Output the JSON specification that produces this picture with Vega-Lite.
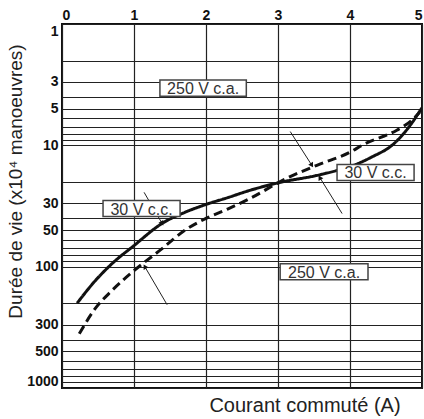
{
  "$schema": "https://vega.github.io/schema/vega-lite/v6.json",
  "width": 360,
  "height": 364,
  "autosize": {"type": "none"},
  "padding": {"left": 62, "top": 24, "right": 2, "bottom": 31},
  "background": "white",
  "config": {
    "view": {"stroke": "#111", "strokeWidth": 2},
    "font": "Liberation Sans"
  },
  "title": {
    "text": "Courant commuté (A)",
    "orient": "bottom",
    "anchor": "middle",
    "dx": 63,
    "offset": 8,
    "fontSize": 20,
    "fontWeight": "normal",
    "font": "Liberation Sans",
    "color": "#222"
  },
  "datasets": {
    "curves": [
      {"I": 0.21, "life": 200, "series": "30 V c.c."},
      {"I": 0.46, "life": 131, "series": "30 V c.c."},
      {"I": 0.69, "life": 95, "series": "30 V c.c."},
      {"I": 1.0, "life": 67, "series": "30 V c.c."},
      {"I": 1.39, "life": 44, "series": "30 V c.c."},
      {"I": 1.71, "life": 35.6, "series": "30 V c.c."},
      {"I": 2.0, "life": 30.7, "series": "30 V c.c."},
      {"I": 2.3, "life": 27, "series": "30 V c.c."},
      {"I": 2.61, "life": 23.5, "series": "30 V c.c."},
      {"I": 3.03, "life": 20.2, "series": "30 V c.c."},
      {"I": 3.54, "life": 17.7, "series": "30 V c.c."},
      {"I": 3.82, "life": 16.1, "series": "30 V c.c."},
      {"I": 4.0, "life": 15, "series": "30 V c.c."},
      {"I": 4.3, "life": 12.5, "series": "30 V c.c."},
      {"I": 4.6, "life": 9.8, "series": "30 V c.c."},
      {"I": 4.8, "life": 7.3, "series": "30 V c.c."},
      {"I": 5.0, "life": 4.9, "series": "30 V c.c."},
      {"I": 0.24, "life": 357, "series": "250 V c.a."},
      {"I": 0.46, "life": 222, "series": "250 V c.a."},
      {"I": 0.69, "life": 158, "series": "250 V c.a."},
      {"I": 1.0, "life": 108, "series": "250 V c.a."},
      {"I": 1.39, "life": 71, "series": "250 V c.a."},
      {"I": 1.71, "life": 50, "series": "250 V c.a."},
      {"I": 2.0, "life": 40, "series": "250 V c.a."},
      {"I": 2.3, "life": 33.5, "series": "250 V c.a."},
      {"I": 2.61, "life": 27.4, "series": "250 V c.a."},
      {"I": 3.12, "life": 18.7, "series": "250 V c.a."},
      {"I": 3.54, "life": 14.6, "series": "250 V c.a."},
      {"I": 4.0, "life": 11.4, "series": "250 V c.a."},
      {"I": 4.18, "life": 9.9, "series": "250 V c.a."},
      {"I": 4.65, "life": 7.5, "series": "250 V c.a."},
      {"I": 4.86, "life": 6.2, "series": "250 V c.a."},
      {"I": 4.97, "life": 5.3, "series": "250 V c.a."}
    ],
    "leaders": [
      {"x": 3.17, "y": 7.7, "x2": 3.47, "y2": 14.6},
      {"x": 3.58, "y": 18.4, "x2": 3.89, "y2": 36.5},
      {"x": 1.14, "y": 24.4, "x2": 1.39, "y2": 44},
      {"x": 1.15, "y": 100, "x2": 1.46, "y2": 206}
    ],
    "heads": [
      {"x": 3.47, "y": 14.6, "points": "down"},
      {"x": 1.39, "y": 44, "points": "down"},
      {"x": 3.58, "y": 18.4, "points": "up"},
      {"x": 1.15, "y": 100, "points": "up"}
    ],
    "labels": [
      {"text": "250 V c.a.", "x": 1.36, "x2": 2.56, "y": 2.9, "y2": 3.94, "tx": 1.96, "ty": 3.38},
      {"text": "30 V c.c.", "x": 0.57, "x2": 1.64, "y": 28.5, "y2": 38.6, "tx": 1.105, "ty": 33.2},
      {"text": "30 V c.c.", "x": 3.82, "x2": 4.89, "y": 14.4, "y2": 19.5, "tx": 4.355, "ty": 16.7},
      {"text": "250 V c.a.", "x": 3.03, "x2": 4.25, "y": 94.5, "y2": 128, "tx": 3.64, "ty": 110}
    ]
  },
  "layer": [
    {
      "data": {"name": "curves"},
      "mark": {"type": "line", "strokeWidth": 3, "color": "#111", "interpolate": "monotone", "clip": true},
      "encoding": {
        "x": {
          "field": "I", "type": "quantitative",
          "scale": {"domain": [0, 5], "nice": false, "zero": false},
          "axis": {
            "orient": "top", "title": null, "values": [0, 1, 2, 3, 4, 5], "format": "d",
            "grid": true, "gridColor": "#222", "gridWidth": 1.2, "gridOpacity": 1,
            "ticks": false, "domain": false,
            "labelFont": "Liberation Sans", "labelFontWeight": "bold", "labelFontSize": 14,
            "labelColor": "#111", "labelPadding": 2
          }
        },
        "y": {
          "field": "life", "type": "quantitative",
          "scale": {"type": "log", "domain": [1, 1000], "reverse": true, "nice": false},
          "axis": {
            "orient": "left",
            "values": [1, 2, 3, 4, 5, 6, 7, 8, 9, 10, 20, 30, 40, 50, 60, 70, 80, 90, 100, 200, 300, 400, 500, 600, 700, 800, 900, 1000],
            "labelExpr": "indexof([1, 3, 5, 10, 30, 50, 100, 300, 500, 1000], datum.value) >= 0 ? format(datum.value, 'd') : ''",
            "grid": true, "gridColor": "#222", "gridWidth": 1.2, "gridOpacity": 1,
            "ticks": false, "domain": false, "labelFlush": true,
            "labelFont": "Liberation Sans", "labelFontWeight": "bold", "labelFontSize": 14,
            "labelColor": "#111", "labelPadding": 4,
            "title": "Durée de vie (x10⁴ manoeuvres)",
            "titleFont": "Liberation Sans", "titleFontSize": 19, "titleFontWeight": "normal",
            "titleColor": "#222", "titleX": -37, "titleY": 157, "titleAngle": -90,
            "titleBaseline": "bottom", "titleAlign": "center"
          }
        },
        "strokeDash": {
          "field": "series", "type": "nominal",
          "scale": {"domain": ["30 V c.c.", "250 V c.a."], "range": [[1, 0], [9, 5]]},
          "legend": null
        }
      }
    },
    {
      "data": {"name": "leaders"},
      "mark": {"type": "rule", "strokeWidth": 1, "color": "#222"},
      "encoding": {
        "x": {"field": "x", "type": "quantitative"},
        "y": {"field": "y", "type": "quantitative"},
        "x2": {"field": "x2"},
        "y2": {"field": "y2"}
      }
    },
    {
      "data": {"name": "heads"},
      "transform": [{"filter": "datum.points == 'down'"}],
      "mark": {"type": "point", "shape": "triangle-down", "filled": true, "size": 30, "angle": -31, "color": "#111", "opacity": 1},
      "encoding": {
        "x": {"field": "x", "type": "quantitative"},
        "y": {"field": "y", "type": "quantitative"}
      }
    },
    {
      "data": {"name": "heads"},
      "transform": [{"filter": "datum.points == 'up'"}],
      "mark": {"type": "point", "shape": "triangle-up", "filled": true, "size": 30, "angle": -30, "color": "#111", "opacity": 1},
      "encoding": {
        "x": {"field": "x", "type": "quantitative"},
        "y": {"field": "y", "type": "quantitative"}
      }
    },
    {
      "data": {"name": "labels"},
      "mark": {"type": "rect", "fill": "white", "stroke": "#444", "strokeWidth": 1.5},
      "encoding": {
        "x": {"field": "x", "type": "quantitative"},
        "x2": {"field": "x2"},
        "y": {"field": "y", "type": "quantitative"},
        "y2": {"field": "y2"}
      }
    },
    {
      "data": {"name": "labels"},
      "mark": {"type": "text", "font": "Liberation Sans", "fontSize": 16, "color": "#333", "baseline": "middle", "align": "center", "dy": 1},
      "encoding": {
        "x": {"field": "tx", "type": "quantitative"},
        "y": {"field": "ty", "type": "quantitative"},
        "text": {"field": "text"}
      }
    }
  ]
}
